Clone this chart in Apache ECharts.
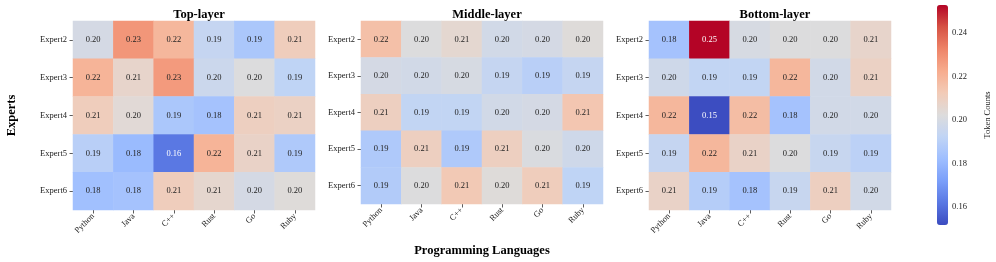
<!DOCTYPE html>
<html><head><meta charset="utf-8">
<script src="https://cdn.jsdelivr.net/npm/echarts@6/dist/echarts.min.js"></script>
<style>html,body{margin:0;padding:0;background:#fff}#c{width:996px;height:262px}</style>
</head><body><div id="c"></div>
<script>
const languages = ['Python','Java','C++','Rust','Go','Ruby'];
const experts = ['Expert2','Expert3','Expert4','Expert5','Expert6'];
const panelTitles = ['Top-layer','Middle-layer','Bottom-layer'];
// rows = experts, columns = languages
const topLayer = [
  [0.199,0.228,0.219,0.194,0.186,0.211],
  [0.220,0.207,0.227,0.196,0.202,0.192],
  [0.211,0.204,0.186,0.184,0.210,0.209],
  [0.190,0.181,0.162,0.220,0.208,0.187],
  [0.183,0.184,0.211,0.206,0.199,0.203]
];
const middleLayer = [
  [0.216,0.202,0.2055,0.198,0.199,0.203],
  [0.199,0.198,0.200,0.194,0.190,0.194],
  [0.210,0.193,0.193,0.198,0.199,0.214],
  [0.187,0.210,0.187,0.210,0.201,0.197],
  [0.188,0.202,0.213,0.203,0.211,0.192]
];
const bottomLayer = [
  [0.184,0.253,0.200,0.202,0.202,0.207],
  [0.197,0.193,0.193,0.219,0.198,0.209],
  [0.219,0.152,0.217,0.184,0.198,0.198],
  [0.194,0.219,0.208,0.202,0.1945,0.191],
  [0.208,0.189,0.184,0.1945,0.210,0.198]
];
const colorbarTicks = [0.16,0.18,0.20,0.22,0.24];
const colorMin = 0.1517, colorMax = 0.2529;
const coolwarm = ['#3b4cc0','#5977e3','#7b9ff9','#9ebeff','#c0d4f5','#dddcdc','#f2cbb7','#f7ac8e','#ee8468','#d65244','#b40426'];

const layers = [topLayer, middleLayer, bottomLayer];
const FONT = "'Liberation Serif','Times New Roman',serif";
const gridLefts = [73, 361, 649];
const gridW = 242;

const grids = [], xAxes = [], yAxes = [], series = [], titles = [];
layers.forEach((m, i) => {
  grids.push({left: gridLefts[i], top: 21, width: gridW, height: 189});
  titles.push({text: panelTitles[i], left: gridLefts[i] + gridW/2, top: 3, textAlign: 'center',
    textStyle: {fontFamily: FONT, fontSize: 12.5, fontWeight: 'bold', color: '#000'}});
  xAxes.push({type: 'category', gridIndex: i, data: languages,
    axisLine: {show: false}, splitArea: {show: false}, splitLine: {show: false},
    axisTick: {show: true, alignWithLabel: true, length: 3.5, lineStyle: {color: '#333', width: 0.8}},
    axisLabel: {rotate: 45, fontFamily: FONT, fontSize: 8.5, color: '#222', margin: 5},
    name: i === 1 ? 'Programming Languages' : '', nameLocation: 'middle', nameGap: 40,
    nameTextStyle: {fontFamily: FONT, fontSize: 12.5, fontWeight: 'bold', color: '#000'}});
  yAxes.push({type: 'category', gridIndex: i, data: experts, inverse: true,
    axisLine: {show: false}, splitArea: {show: false}, splitLine: {show: false},
    axisTick: {show: true, alignWithLabel: true, length: 3.5, lineStyle: {color: '#333', width: 0.8}},
    axisLabel: {fontFamily: FONT, fontSize: 8.5, color: '#222', margin: 6},
    name: i === 0 ? 'Experts' : '', nameLocation: 'middle', nameGap: 55, nameRotate: 90,
    nameTextStyle: {fontFamily: FONT, fontSize: 12.5, fontWeight: 'bold', color: '#000'}});
  const data = [];
  m.forEach((row, r) => row.forEach((v, c) => {
    data.push({value: [c, r, v], label: {color: (v < 0.166 || v > 0.245) ? '#fff' : '#222'}});
  }));
  series.push({type: 'heatmap', xAxisIndex: i, yAxisIndex: i, data: data,
    label: {show: true, fontFamily: FONT, fontSize: 8.5, formatter: p => p.value[2].toFixed(2)},
    itemStyle: {borderWidth: 0}, emphasis: {disabled: true}});
});

// colorbar axis grid
grids.push({left: 937, top: 5, width: 11, height: 220});
xAxes.push({type: 'value', gridIndex: 3, show: false});
yAxes.push({type: 'value', gridIndex: 3, position: 'right', min: colorMin, max: colorMax,
  axisLine: {show: false}, splitLine: {show: false},
  axisTick: {show: true, length: 3, customValues: colorbarTicks, lineStyle: {color: '#333', width: 0.8}},
  axisLabel: {show: true, customValues: colorbarTicks, formatter: v => v.toFixed(2), fontFamily: FONT, fontSize: 8.5, color: '#222', margin: 4},
  name: 'Token Counts', nameLocation: 'middle', nameGap: 35, nameRotate: 90,
  nameTextStyle: {fontFamily: FONT, fontSize: 8.5, color: '#222'}});

const chart = echarts.init(document.getElementById('c'), null, {renderer: 'canvas'});
chart.setOption({
  animation: false,
  backgroundColor: '#fff',
  title: titles,
  grid: grids, xAxis: xAxes, yAxis: yAxes, series: series,
  visualMap: {type: 'continuous', min: colorMin, max: colorMax, seriesIndex: [0,1,2],
    inRange: {color: coolwarm}, orient: 'vertical', left: 937, top: 5, itemWidth: 11, itemHeight: 220,
    padding: 0, calculable: false, text: null, hoverLink: false, showLabel: false}
});
</script></body></html>
